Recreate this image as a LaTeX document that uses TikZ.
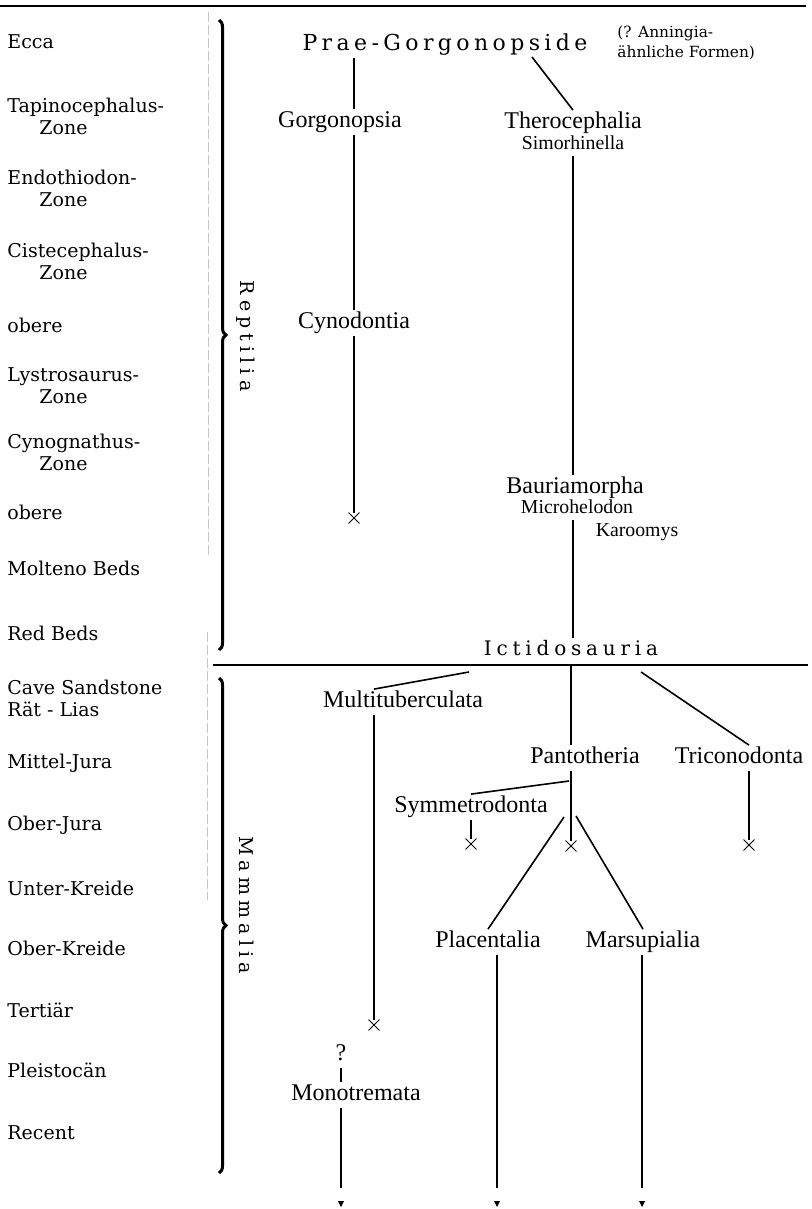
\documentclass[tikz,border=0pt]{standalone}
\usepackage{fontspec}
\setmainfont{DejaVu Serif}
\newfontfamily\astfont{Liberation Serif}
\newfontfamily\sperrfont{DejaVu Serif}[LetterSpace=24]
\newfontfamily\titelfont{DejaVu Serif}[LetterSpace=20]
\newfontfamily\klassefont{DejaVu Serif}[LetterSpace=27]
\usetikzlibrary{decorations.pathreplacing,shapes.misc}

\tikzset{
  zone/.style={anchor=west,align=left,inner sep=0pt,font={\fontsize{9.5}{11}\selectfont}},
  taxon/.style={inner sep=1pt,text height=8pt,text depth=2.5pt,font={\astfont\fontsize{12}{14}\selectfont}},
  genus/.style={inner sep=1pt,text height=6.5pt,text depth=2pt,font={\astfont\fontsize{9.9}{11}\selectfont}},
  sperr/.style={inner sep=1pt,text height=7.5pt,text depth=2pt,font={\sperrfont\fontsize{10}{12}\selectfont}},
  titel/.style={inner sep=1pt,text height=8pt,text depth=2.5pt,font={\titelfont\fontsize{11}{13}\selectfont}},
  klasse/.style={rotate=-90,inner sep=0pt,font={\klassefont\fontsize{9.5}{11}\selectfont}},
  ast/.style={line width=0.8pt},
  tot/.style={draw,cross out,minimum size=5pt,inner sep=0pt,line width=0.45pt},
  klammer/.style={decorate,decoration={brace,amplitude=3.5pt},line width=1.5pt},
  spur/.style={gray!45,line width=0.3pt,dash pattern=on 5pt off 1.5pt}
}

\begin{document}
\begin{tikzpicture}[x=0.5pt,y=-0.5pt]
\useasboundingbox (0,0) rectangle (811,1209);
\draw[line width=1.3pt] (0,6) -- (806,6);

% Zeitskala
\node[zone] (ecca) at (7,42) {Ecca};
\node[zone] (tapino) at (7,116) {Tapinocephalus-\\\hspace*{16pt}Zone};
\node[zone] (endo) at (7,188) {Endothiodon-\\\hspace*{16pt}Zone};
\node[zone] (cist) at (7,261) {Cistecephalus-\\\hspace*{16pt}Zone};
\node[zone] (obere1) at (7,325) {obere};
\node[zone] (lystro) at (7,386) {Lystrosaurus-\\\hspace*{16pt}Zone};
\node[zone] (cynog) at (7,452) {Cynognathus-\\\hspace*{16pt}Zone};
\node[zone] (obere2) at (7,512) {obere};
\node[zone] (molteno) at (7,568) {Molteno Beds};
\node[zone] (red) at (7,633) {Red Beds};
\node[zone] (cave) at (7,698) {Cave Sandstone\\Rät - Lias};
\node[zone] (mittel) at (7,763) {Mittel-Jura};
\node[zone] (oberjura) at (7,825) {Ober-Jura};
\node[zone] (unterkr) at (7,888) {Unter-Kreide};
\node[zone] (oberkr) at (7,948) {Ober-Kreide};
\node[zone] (tert) at (7,1010) {Tertiär};
\node[zone] (pleist) at (7,1070) {Pleistocän};
\node[zone] (recent) at (7,1133) {Recent};

\draw[spur] (208,12) -- (208,555);
\draw[spur] (207,632) -- (207,900);

% Klassen
\draw[klammer] (219,20) -- (219,650);
\draw[klammer] (219,678) -- (219,1173);
\node[klasse] (rept) at (246,336) {Reptilia};
\node[klasse] (mamm) at (247,905) {Mammalia};

% Reptilien
\node[titel] (prae) at (445,45) {Prae-Gorgonopside};
\node[anchor=west,align=left,inner sep=0pt,font={\fontsize{7.7}{10}\selectfont}] (anning) at (617,43) {(? Anningia-\\ähnliche Formen)};
\node[taxon] (gorg) at (340,122) {Gorgonopsia};
\node[taxon] (thero) at (573,123) {Therocephalia};
\node[genus] (simo) at (573,145) {Simorhinella};
\node[taxon] (cyno) at (354,323) {Cynodontia};
\node[tot] (xcyno) at (354,518) {};
\node[taxon] (bauria) at (575,488) {Bauriamorpha};
\node[genus] (micro) at (577,509) {Microhelodon};
\node[genus] (karoo) at (637,532) {Karoomys};
\node[sperr] (ictido) at (571,650) {Ictidosauria};
\coordinate (praeAst) at (532,57);

\draw[ast] (prae.south -| cyno) -- (gorg.north -| cyno);
\draw[ast] (gorg.south -| cyno) -- (cyno.north);
\draw[ast] (cyno.south) -- (xcyno.north);
\draw[ast] (praeAst) -- (thero.north);
\draw[ast] (simo.south) -- (bauria.north -| simo);
\draw[ast] (micro.south -| simo) -- (ictido.north -| simo);

% Saeuger
\coordinate (ruleW) at (213,665);
\coordinate (ruleE) at (808,665);
\draw[line width=1.3pt] (ruleW) -- (ruleE);

\node[taxon] (multi) at (403,702) {Multituberculata};
\node[taxon] (panto) at (585,758) {Pantotheria};
\node[taxon] (trico) at (739,758) {Triconodonta};
\node[taxon] (symm) at (471,807) {Symmetrodonta};
\node[tot] (xsymm) at (471,844) {};
\node[tot] (xpanto) at (571,846) {};
\node[tot] (xtrico) at (749,845) {};
\node[taxon] (plac) at (488,942) {Placentalia};
\node[taxon] (mars) at (643,942) {Marsupialia};
\node[tot] (xmulti) at (374,1025) {};
\node[taxon] (frage) at (341,1055) {?};
\node[taxon] (mono) at (356,1095) {Monotremata};

\coordinate (mAst) at (469,672);
\coordinate (tAst) at (641,672);
\coordinate (sAst) at (569,781);
\coordinate (pAst) at (564,817);
\coordinate (maAst) at (576,816);
\coordinate (monoEnd) at (341,1188);
\coordinate (placEnd) at (497,1188);
\coordinate (marsEnd) at (642,1188);

\draw[ast] (ruleW -| ictido) -- (panto.north -| ictido);
\draw[ast] (panto.south -| ictido) -- (xpanto.north);
\draw[ast] (mAst) -- (multi.north -| xmulti);
\draw[ast] (multi.south -| xmulti) -- (xmulti.north);
\draw[ast] (tAst) -- (trico.north -| xtrico);
\draw[ast] (trico.south -| xtrico) -- (xtrico.north);
\draw[ast] (sAst) -- (symm.north -| xsymm);
\draw[ast] (symm.south -| xsymm) -- (xsymm.north);
\draw[ast] (pAst) -- (plac.north);
\draw[ast] (maAst) -- (mars.north);
\draw[ast] (plac.south -| placEnd) -- (placEnd);
\draw[ast] (mars.south -| marsEnd) -- (marsEnd);
\draw[ast] (frage.south -| monoEnd) -- (mono.north -| monoEnd);
\draw[ast] (mono.south -| monoEnd) -- (monoEnd);

\foreach \e in {monoEnd,placEnd,marsEnd}
  \fill (\e) ++(-3,13) -- ++(6,0) -- ++(-3,6) -- cycle;
\end{tikzpicture}
\end{document}
